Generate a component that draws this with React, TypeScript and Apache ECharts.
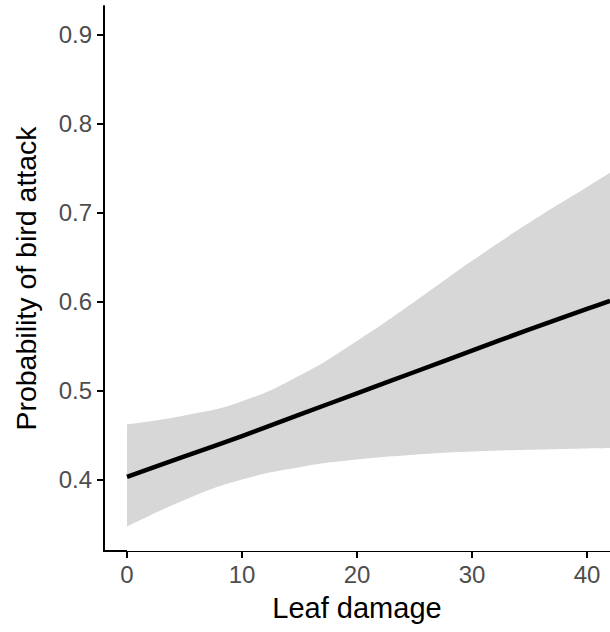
import React, { useEffect, useRef } from "react";
import * as echarts from "echarts";

const xValues = [0, 5, 10, 15, 20, 25, 30, 35, 40, 42];
const fitValues = [0.403, 0.426, 0.449, 0.473, 0.497, 0.521, 0.545, 0.569, 0.592, 0.601];
const lowerValues = [0.347, 0.377, 0.4, 0.414, 0.4225, 0.428, 0.4315, 0.4335, 0.435, 0.4355];
const upperValues = [0.462, 0.472, 0.488, 0.517, 0.556, 0.6, 0.646, 0.689, 0.729, 0.745];
const xTicks = [0, 10, 20, 30, 40];
const yTicks = [0.4, 0.5, 0.6, 0.7, 0.8, 0.9];

export default function App() {
  const ref = useRef<HTMLDivElement>(null);
  useEffect(() => {
    if (!ref.current) return;
    const chart = echarts.init(ref.current, null, { renderer: "svg" });
    const font = "'Liberation Sans', Arial, Helvetica, sans-serif";
    chart.setOption({
      animation: false,
      backgroundColor: "#ffffff",
      grid: { left: 104, right: 0, top: 6, bottom: 81 },
      xAxis: {
        type: "value",
        min: -2,
        max: 42,
        interval: 10,
        name: "Leaf damage",
        nameLocation: "middle",
        nameGap: 42,
        nameTextStyle: { color: "#000", fontSize: 29, fontFamily: font },
        axisLine: { show: true, onZero: false, lineStyle: { color: "#000", width: 2 } },
        axisTick: { show: true, length: 7, lineStyle: { color: "#000", width: 2 }, customValues: xTicks },
        axisLabel: { color: "#4d4d4d", fontSize: 24, fontFamily: font, margin: 11, customValues: xTicks },
        splitLine: { show: false },
      },
      yAxis: {
        type: "value",
        min: 0.3197,
        max: 0.9326,
        name: "Probability of bird attack",
        nameLocation: "middle",
        nameGap: 64,
        nameTextStyle: { color: "#000", fontSize: 28.5, fontFamily: font },
        axisLine: { show: true, onZero: false, lineStyle: { color: "#000", width: 2 } },
        axisTick: { show: true, length: 7, lineStyle: { color: "#000", width: 2 }, customValues: yTicks },
        axisLabel: {
          color: "#4d4d4d",
          fontSize: 24,
          fontFamily: font,
          margin: 12,
          customValues: yTicks,
          formatter: (v: number) => v.toFixed(1),
        },
        splitLine: { show: false },
      },
      series: [
        {
          type: "line",
          name: "upper",
          data: xValues.map((x, i) => [x, upperValues[i]]),
          smooth: true,
          symbol: "none",
          lineStyle: { width: 0, color: "#d7d7d7" },
          areaStyle: { color: "#d7d7d7", opacity: 1, origin: "start" },
          silent: true,
          z: 1,
        },
        {
          type: "line",
          name: "lower",
          data: xValues.map((x, i) => [x, lowerValues[i]]),
          smooth: true,
          symbol: "none",
          lineStyle: { width: 0, color: "#ffffff" },
          areaStyle: { color: "#ffffff", opacity: 1, origin: "start" },
          silent: true,
          z: 2,
        },
        {
          type: "line",
          name: "fit",
          data: xValues.map((x, i) => [x, fitValues[i]]),
          smooth: 0.2,
          symbol: "none",
          lineStyle: { color: "#000", width: 4.5 },
          z: 3,
        },
      ],
    });
    return () => chart.dispose();
  }, []);
  return (
    <div
      ref={ref}
      style={{ position: "absolute", left: 0, top: 0, width: 610, height: 632 }}
    />
  );
}
